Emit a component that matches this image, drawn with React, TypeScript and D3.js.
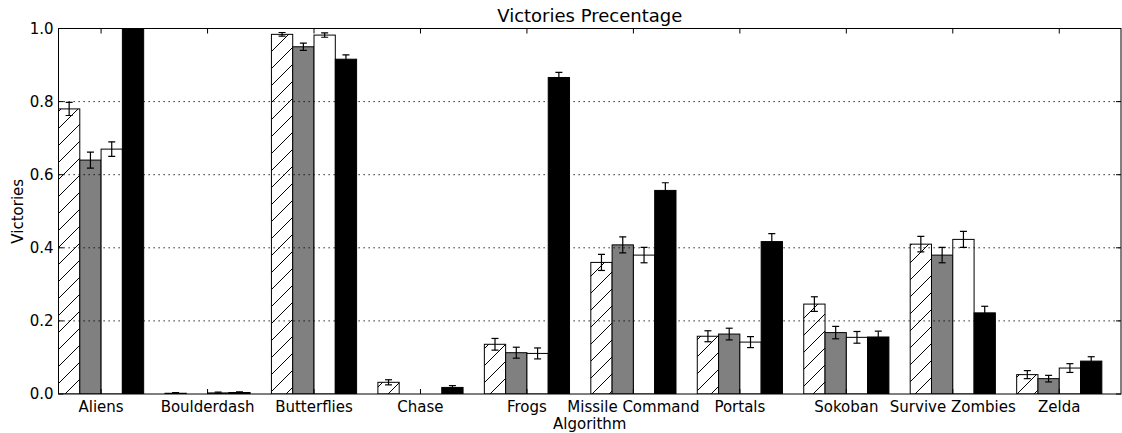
import React from "react";
import * as d3 from "d3";

const categories = ["Aliens", "Boulderdash", "Butterflies", "Chase", "Frogs", "Missile Command", "Portals", "Sokoban", "Survive Zombies", "Zelda"];
const hatchedVals = [0.78, 0.002, 0.984, 0.032, 0.136, 0.36, 0.158, 0.246, 0.41, 0.053];
const hatchedErr = [0.018, 0.002, 0.005, 0.007, 0.016, 0.022, 0.015, 0.02, 0.021, 0.011];
const grayVals = [0.64, 0, 0.95, 0, 0.113, 0.408, 0.164, 0.168, 0.38, 0.042];
const grayErr = [0.022, 0, 0.01, 0, 0.015, 0.022, 0.016, 0.017, 0.021, 0.009];
const whiteVals = [0.67, 0.003, 0.982, 0, 0.111, 0.38, 0.142, 0.155, 0.423, 0.071];
const whiteErr = [0.02, 0.002, 0.006, 0, 0.015, 0.021, 0.015, 0.016, 0.022, 0.012];
const blackVals = [1.0, 0.004, 0.916, 0.018, 0.866, 0.557, 0.417, 0.156, 0.222, 0.09];
const blackErr = [0, 0.002, 0.012, 0.005, 0.014, 0.021, 0.022, 0.016, 0.018, 0.012];
const yTicks = [0, 0.2, 0.4, 0.6, 0.8, 1.0];

const W = 1122, H = 433;
const L = 58.5, R = 1121, T = 28.5, B = 394;
const FONT = "DejaVu Sans, sans-serif";

export default function App() {
  const x = d3.scaleLinear().domain([-0.4, 9.58]).range([L, R]);
  const y = d3.scaleLinear().domain([0, 1]).range([B, T]);
  const bw = 0.2;
  const series = [
    { vals: hatchedVals, err: hatchedErr, fill: "url(#hatch)", off: -0.4 },
    { vals: grayVals, err: grayErr, fill: "#808080", off: -0.2 },
    { vals: whiteVals, err: whiteErr, fill: "#ffffff", off: 0 },
    { vals: blackVals, err: blackErr, fill: "#000000", off: 0.2 },
  ];
  const fmt = d3.format(".1f");
  return (
    <svg width={W} height={H} style={{ position: "absolute", left: 0, top: 0, background: "#fff" }} fontFamily={FONT}>
      <defs>
        <pattern id="hatch" patternUnits="userSpaceOnUse" width={17} height={17}>
          <rect width={17} height={17} fill="#fff" />
          <path d="M0,17 L17,0 M-4,4 L4,-4 M13,21 L21,13" stroke="#000" strokeWidth={1} />
        </pattern>
        <clipPath id="plot">
          <rect x={L} y={T} width={R - L} height={B - T} />
        </clipPath>
      </defs>
      <g clipPath="url(#plot)">
        {series.map((s, si) =>
          s.vals.map((v, i) => {
            const x0 = x(i + s.off);
            const x1 = x(i + s.off + bw);
            if (v <= 0) return null;
            return (
              <rect key={`b${si}-${i}`} x={x0} y={y(v)} width={x1 - x0} height={B - y(v)}
                fill={s.fill} stroke="#000" strokeWidth={1} />
            );
          })
        )}
        {yTicks.filter((t) => t > 0).map((t) => (
          <line key={`g${t}`} x1={L} x2={R} y1={y(t)} y2={y(t)} stroke="#000" strokeWidth={1}
            strokeDasharray="1.25,3.75" />
        ))}
        {series.map((s, si) =>
          s.vals.map((v, i) => {
            const e = s.err[i];
            if (e <= 0) return null;
            const cx = x(i + s.off + bw / 2);
            return (
              <g key={`e${si}-${i}`} stroke="#000" strokeWidth={1.2}>
                <line x1={cx} x2={cx} y1={y(v + e)} y2={y(v - e)} />
                <line x1={cx - 3.5} x2={cx + 3.5} y1={y(v + e)} y2={y(v + e)} />
                <line x1={cx - 3.5} x2={cx + 3.5} y1={y(v - e)} y2={y(v - e)} />
              </g>
            );
          })
        )}
      </g>
      <rect x={L} y={T} width={R - L} height={B - T} fill="none" stroke="#000" strokeWidth={1} />
      {yTicks.map((t) => (
        <g key={`yt${t}`}>
          <line x1={L} x2={L + 5} y1={y(t)} y2={y(t)} stroke="#000" />
          <line x1={R - 5} x2={R} y1={y(t)} y2={y(t)} stroke="#000" />
          <text x={L - 5} y={y(t)} dy="0.36em" textAnchor="end" fontSize={15}>{fmt(t)}</text>
        </g>
      ))}
      {categories.map((c, i) => (
        <g key={`xt${i}`}>
          <line x1={x(i)} x2={x(i)} y1={B} y2={B - 5} stroke="#000" />
          <line x1={x(i)} x2={x(i)} y1={T} y2={T + 5} stroke="#000" />
          <text x={x(i)} y={411.5} textAnchor="middle" fontSize={15}>{c}</text>
        </g>
      ))}
      <text x={(L + R) / 2} y={21.5} textAnchor="middle" fontSize={18}>Victories Precentage</text>
      <text x={(L + R) / 2} y={429} textAnchor="middle" fontSize={15}>Algorithm</text>
      <text transform={`translate(22.5,${(T + B) / 2}) rotate(-90)`} textAnchor="middle" fontSize={15}>Victories</text>
    </svg>
  );
}
